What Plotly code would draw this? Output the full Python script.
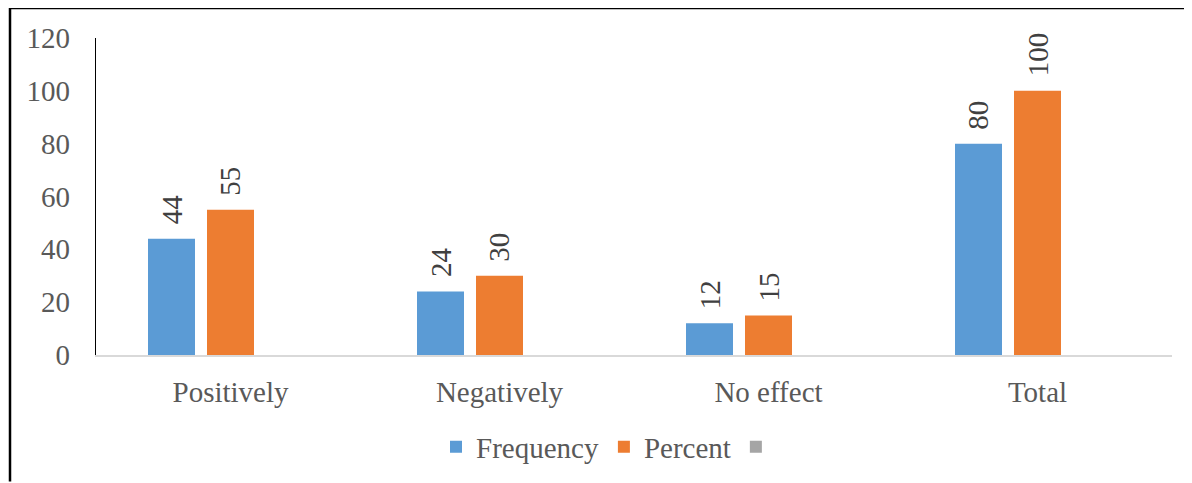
import plotly.graph_objects as go

categories = ["Positively", "Negatively", "No effect", "Total"]
frequency = [44, 24, 12, 80]
percent = [55, 30, 15, 100]
blank = [None, None, None, None]
y_ticks = [0, 20, 40, 60, 80, 100, 120]

FONT = "Liberation Serif"
FS = 29
OFF = 8  # page body margin
W, H = 1192 - OFF, 483 - OFF
L, R, T, B = 96 - OFF, 20, 38 - OFF, 127
pw = W - L - R
ph = H - T - B

cat_px = pw / len(categories)
bar_w = 47 / 269
slot = 59 / 269

fig = go.Figure()
series = [
    ("Frequency", frequency, "#5b9bd5", -slot),
    ("Percent", percent, "#ed7d31", 0.0),
    (" ", blank, "#a5a5a5", slot),
]
annotations = []
for name, vals, color, center in series:
    fig.add_trace(go.Bar(
        x=categories, y=vals, name=name,
        marker=dict(color=color, line=dict(width=0)),
        width=bar_w, offset=center - bar_w / 2,
        hoverinfo="skip",
    ))
    for c, v in zip(categories, vals):
        if v is None:
            continue
        annotations.append(dict(
            x=c, y=v, xref="x", yref="y", text=str(v), showarrow=False,
            textangle=-90, xanchor="center", yanchor="bottom",
            xshift=center * cat_px, yshift=12,
            font=dict(family=FONT, size=FS, color="#404040"),
        ))

def px_x(p):
    return (p - OFF - L) / pw

def px_y(p):
    return (H + OFF - B - p) / ph

shapes = [
    dict(type="line", xref="paper", yref="paper",
         x0=px_x(10), x1=px_x(1192), y0=px_y(8), y1=px_y(8),
         line=dict(color="black", width=2.5)),
    dict(type="line", xref="paper", yref="paper",
         x0=px_x(10), x1=px_x(10), y0=px_y(8), y1=px_y(483),
         line=dict(color="black", width=2.5)),
]

fig.update_layout(
    width=W, height=H,
    margin=dict(l=L, r=R, t=T, b=B, pad=0),
    paper_bgcolor="white", plot_bgcolor="white",
    barmode="overlay",
    font=dict(family=FONT, size=FS, color="#595959"),
    showlegend=True,
    legend=dict(orientation="h", x=px_x(436), xanchor="left",
                y=px_y(447), yanchor="middle",
                font=dict(family=FONT, size=FS, color="#595959"),
                bgcolor="rgba(0,0,0,0)", itemclick=False),
    shapes=shapes,
    annotations=annotations,
    xaxis=dict(showgrid=False, showline=True, linecolor="#d9d9d9", linewidth=1.5,
               ticks="", ticklabelstandoff=10,
               tickfont=dict(family=FONT, size=FS, color="#595959")),
    yaxis=dict(range=[0, 120], tickvals=y_ticks, showgrid=False,
               showline=True, linecolor="black", linewidth=1.2,
               ticks="", ticklabelstandoff=19, zeroline=False,
               tickfont=dict(family=FONT, size=FS, color="#595959")),
)

fig.write_html("out.html")
